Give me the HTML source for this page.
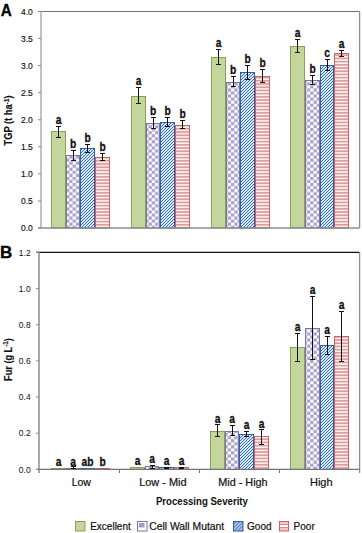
<!DOCTYPE html>
<html><head><meta charset="utf-8"><style>
html,body{margin:0;padding:0;background:#fff;width:362px;height:533px;overflow:hidden}
svg{display:block}
text{font-family:"Liberation Sans",sans-serif;fill:#111}
.tick{font-size:8.5px;text-anchor:end;fill:#111;stroke:#111;stroke-width:0.15px}
.lbl{font-size:12.8px;font-weight:bold;text-anchor:middle;stroke:#111;stroke-width:0.3px}
.pl{font-size:17px;font-weight:bold;stroke:#000;stroke-width:0.3px;fill:#000}
.yt{font-size:10px;font-weight:bold;text-anchor:middle;stroke:#111;stroke-width:0.15px}
.sup{font-size:7px}
.tickb{stroke:none}
.cat{font-size:10.2px;text-anchor:middle;fill:#111;stroke:#111;stroke-width:0.2px}
.xt{font-size:10.4px;font-weight:bold;text-anchor:middle}
.leg{font-size:10px;fill:#111;stroke:#111;stroke-width:0.2px}
</style></head><body>
<svg width="362" height="533" viewBox="0 0 362 533">
<defs>
<pattern id="chk" patternUnits="userSpaceOnUse" width="6.6" height="6.1">
<rect width="6.6" height="6.1" fill="#fdfcff"/>
<rect width="3.3" height="3.05" fill="#a8a1c8"/>
<rect x="3.3" y="3.05" width="3.3" height="3.05" fill="#a8a1c8"/>
</pattern>
<pattern id="dia" patternUnits="userSpaceOnUse" width="3" height="3">
<rect width="3" height="3" fill="#d6e9fc"/>
<path d="M-1 1L1 -1M0 3L3 0M2 4L4 2" stroke="#3a6cc0" stroke-width="1.0"/>
</pattern>
<pattern id="hor" patternUnits="userSpaceOnUse" width="4" height="3.2">
<rect width="4" height="3.2" fill="#fdf3f3"/>
<rect y="0" width="4" height="1.7" fill="#df9c9c"/>
</pattern>
<pattern id="ldia" patternUnits="userSpaceOnUse" width="3.6" height="3.6">
<rect width="3.6" height="3.6" fill="#4a7cc8"/>
<path d="M-1 1L1 -1M0 3.6L3.6 0M2.6 4.6L4.6 2.6" stroke="#eaf3ff" stroke-width="1.1"/>
</pattern>
</defs>
<path d="M38 11.5H359.5" stroke="#737373" stroke-width="1.2" fill="none"/>
<path d="M359.6 11.5V228.0" stroke="#8e8e8e" stroke-width="1.3" fill="none"/>
<path d="M41.0 11.5V228.0" stroke="#c2c2c2" stroke-width="2" fill="none"/>
<rect x="51.5" y="131.5" width="14" height="96.5" fill="#c3d69b" stroke="#87a152" stroke-width="1"/>
<rect x="66.5" y="155.5" width="13" height="72.5" fill="url(#chk)" stroke="#7f73ab" stroke-width="1"/>
<rect x="80.5" y="148.5" width="14" height="79.5" fill="url(#dia)" stroke="#355f9f" stroke-width="1"/>
<rect x="95.5" y="157.5" width="14" height="70.5" fill="url(#hor)" stroke="#c96262" stroke-width="1"/>
<rect x="131.5" y="96.5" width="14" height="131.5" fill="#c3d69b" stroke="#87a152" stroke-width="1"/>
<rect x="146.5" y="123.5" width="13" height="104.5" fill="url(#chk)" stroke="#7f73ab" stroke-width="1"/>
<rect x="160.5" y="122.5" width="14" height="105.5" fill="url(#dia)" stroke="#355f9f" stroke-width="1"/>
<rect x="175.5" y="125.5" width="14" height="102.5" fill="url(#hor)" stroke="#c96262" stroke-width="1"/>
<rect x="211.5" y="57.5" width="14" height="170.5" fill="#c3d69b" stroke="#87a152" stroke-width="1"/>
<rect x="226.5" y="82.5" width="13" height="145.5" fill="url(#chk)" stroke="#7f73ab" stroke-width="1"/>
<rect x="240.5" y="72.5" width="14" height="155.5" fill="url(#dia)" stroke="#355f9f" stroke-width="1"/>
<rect x="255.5" y="76.5" width="14" height="151.5" fill="url(#hor)" stroke="#c96262" stroke-width="1"/>
<rect x="290.5" y="46.5" width="14" height="181.5" fill="#c3d69b" stroke="#87a152" stroke-width="1"/>
<rect x="305.5" y="80.5" width="14" height="147.5" fill="url(#chk)" stroke="#7f73ab" stroke-width="1"/>
<rect x="320.5" y="65.5" width="13" height="162.5" fill="url(#dia)" stroke="#355f9f" stroke-width="1"/>
<rect x="334.5" y="53.5" width="14" height="174.5" fill="url(#hor)" stroke="#c96262" stroke-width="1"/>
<path d="M38 228.0H359.5" stroke="#8c8c8c" stroke-width="1.6" fill="none"/>
<path d="M38 228.00H41" stroke="#8c8c8c" stroke-width="1"/>
<text x="32.8" y="231.30" class="tick">0.0</text>
<path d="M38 200.94H41" stroke="#8c8c8c" stroke-width="1"/>
<text x="32.8" y="204.24" class="tick">0.5</text>
<path d="M38 173.88H41" stroke="#8c8c8c" stroke-width="1"/>
<text x="32.8" y="177.18" class="tick">1.0</text>
<path d="M38 146.81H41" stroke="#8c8c8c" stroke-width="1"/>
<text x="32.8" y="150.11" class="tick">1.5</text>
<path d="M38 119.75H41" stroke="#8c8c8c" stroke-width="1"/>
<text x="32.8" y="123.05" class="tick">2.0</text>
<path d="M38 92.69H41" stroke="#8c8c8c" stroke-width="1"/>
<text x="32.8" y="95.99" class="tick">2.5</text>
<path d="M38 65.62H41" stroke="#8c8c8c" stroke-width="1"/>
<text x="32.8" y="68.92" class="tick">3.0</text>
<path d="M38 38.56H41" stroke="#8c8c8c" stroke-width="1"/>
<text x="32.8" y="41.86" class="tick">3.5</text>
<path d="M38 11.50H41" stroke="#8c8c8c" stroke-width="1"/>
<text x="32.8" y="14.80" class="tick">4.0</text>
<path d="M58.5 126.5V137.5M56.0 126.5H61.0M56.0 137.5H61.0" stroke="#111" stroke-width="1" fill="none"/>
<text transform="translate(58.50,123.70) scale(0.8,1)" class="lbl">a</text>
<path d="M73.5 150.5V160.5M71.0 150.5H76.0M71.0 160.5H76.0" stroke="#111" stroke-width="1" fill="none"/>
<text transform="translate(73.00,148.00) scale(0.8,1)" class="lbl">b</text>
<path d="M87.5 144.5V152.5M85.0 144.5H90.0M85.0 152.5H90.0" stroke="#111" stroke-width="1" fill="none"/>
<text transform="translate(87.50,141.70) scale(0.8,1)" class="lbl">b</text>
<path d="M102.5 153.5V160.5M100.0 153.5H105.0M100.0 160.5H105.0" stroke="#111" stroke-width="1" fill="none"/>
<text transform="translate(102.50,150.60) scale(0.8,1)" class="lbl">b</text>
<path d="M138.5 87.5V103.5M136.0 87.5H141.0M136.0 103.5H141.0" stroke="#111" stroke-width="1" fill="none"/>
<text transform="translate(138.50,85.20) scale(0.8,1)" class="lbl">a</text>
<path d="M153.5 117.5V128.5M151.0 117.5H156.0M151.0 128.5H156.0" stroke="#111" stroke-width="1" fill="none"/>
<text transform="translate(153.00,114.90) scale(0.8,1)" class="lbl">b</text>
<path d="M167.5 117.5V126.5M165.0 117.5H170.0M165.0 126.5H170.0" stroke="#111" stroke-width="1" fill="none"/>
<text transform="translate(167.50,114.90) scale(0.8,1)" class="lbl">b</text>
<path d="M182.5 120.5V128.5M180.0 120.5H185.0M180.0 128.5H185.0" stroke="#111" stroke-width="1" fill="none"/>
<text transform="translate(182.50,118.10) scale(0.8,1)" class="lbl">b</text>
<path d="M218.5 49.5V64.5M216.0 49.5H221.0M216.0 64.5H221.0" stroke="#111" stroke-width="1" fill="none"/>
<text transform="translate(218.50,47.00) scale(0.8,1)" class="lbl">a</text>
<path d="M233.5 76.5V86.5M231.0 76.5H236.0M231.0 86.5H236.0" stroke="#111" stroke-width="1" fill="none"/>
<text transform="translate(233.00,73.50) scale(0.8,1)" class="lbl">b</text>
<path d="M247.5 65.5V79.5M245.0 65.5H250.0M245.0 79.5H250.0" stroke="#111" stroke-width="1" fill="none"/>
<text transform="translate(247.50,63.40) scale(0.8,1)" class="lbl">b</text>
<path d="M262.5 69.5V82.5M260.0 69.5H265.0M260.0 82.5H265.0" stroke="#111" stroke-width="1" fill="none"/>
<text transform="translate(262.50,67.00) scale(0.8,1)" class="lbl">b</text>
<path d="M297.5 39.5V52.5M295.0 39.5H300.0M295.0 52.5H300.0" stroke="#111" stroke-width="1" fill="none"/>
<text transform="translate(297.50,37.00) scale(0.8,1)" class="lbl">a</text>
<path d="M312.5 75.5V84.5M310.0 75.5H315.0M310.0 84.5H315.0" stroke="#111" stroke-width="1" fill="none"/>
<text transform="translate(312.50,73.20) scale(0.8,1)" class="lbl">b</text>
<path d="M327.5 59.5V70.5M325.0 59.5H330.0M325.0 70.5H330.0" stroke="#111" stroke-width="1" fill="none"/>
<text transform="translate(327.00,57.30) scale(0.8,1)" class="lbl">c</text>
<path d="M341.5 50.5V56.5M339.0 50.5H344.0M339.0 56.5H344.0" stroke="#111" stroke-width="1" fill="none"/>
<text transform="translate(341.50,47.60) scale(0.8,1)" class="lbl">a</text>
<path d="M36 252.4H359.5" stroke="#111" stroke-width="1.2" fill="none"/>
<path d="M359.6 252.4V473.0" stroke="#8e8e8e" stroke-width="1.3" fill="none"/>
<path d="M39.0 252.4V473.0" stroke="#a9a9a9" stroke-width="2" fill="none"/>
<rect x="51.5" y="468.5" width="14" height="0.9" fill="#c3d69b" stroke="#87a152" stroke-width="1"/>
<rect x="66.5" y="468.5" width="13" height="0.9" fill="url(#chk)" stroke="#7f73ab" stroke-width="1"/>
<rect x="80.5" y="468.5" width="14" height="0.9" fill="url(#dia)" stroke="#355f9f" stroke-width="1"/>
<rect x="95.5" y="468.5" width="14" height="0.9" fill="url(#hor)" stroke="#c96262" stroke-width="1"/>
<rect x="130.5" y="467.5" width="14" height="1.9" fill="#c3d69b" stroke="#87a152" stroke-width="1"/>
<rect x="145.5" y="466.5" width="13" height="2.9" fill="url(#chk)" stroke="#7f73ab" stroke-width="1"/>
<rect x="159.5" y="467.5" width="14" height="1.9" fill="url(#dia)" stroke="#355f9f" stroke-width="1"/>
<rect x="174.5" y="467.5" width="14" height="1.9" fill="url(#hor)" stroke="#c96262" stroke-width="1"/>
<rect x="210.5" y="431.5" width="14" height="37.9" fill="#c3d69b" stroke="#87a152" stroke-width="1"/>
<rect x="225.5" y="431.5" width="13" height="37.9" fill="url(#chk)" stroke="#7f73ab" stroke-width="1"/>
<rect x="239.5" y="434.5" width="14" height="34.9" fill="url(#dia)" stroke="#355f9f" stroke-width="1"/>
<rect x="254.5" y="436.5" width="14" height="32.9" fill="url(#hor)" stroke="#c96262" stroke-width="1"/>
<rect x="290.5" y="347.5" width="14" height="121.9" fill="#c3d69b" stroke="#87a152" stroke-width="1"/>
<rect x="305.5" y="328.5" width="14" height="140.9" fill="url(#chk)" stroke="#7f73ab" stroke-width="1"/>
<rect x="320.5" y="345.5" width="13" height="123.9" fill="url(#dia)" stroke="#355f9f" stroke-width="1"/>
<rect x="334.5" y="336.5" width="14" height="132.9" fill="url(#hor)" stroke="#c96262" stroke-width="1"/>
<path d="M36 469.4H359.5" stroke="#747474" stroke-width="1.2" fill="none"/>
<path d="M119.5 469.4V473.0" stroke="#7a7a7a" stroke-width="1"/>
<path d="M199.5 469.4V473.0" stroke="#7a7a7a" stroke-width="1"/>
<path d="M279.5 469.4V473.0" stroke="#7a7a7a" stroke-width="1"/>
<path d="M36 469.40H39" stroke="#8c8c8c" stroke-width="1"/>
<text x="30.7" y="472.60" class="tick tickb">0.0</text>
<path d="M36 433.23H39" stroke="#8c8c8c" stroke-width="1"/>
<text x="30.7" y="436.43" class="tick tickb">0.2</text>
<path d="M36 397.07H39" stroke="#8c8c8c" stroke-width="1"/>
<text x="30.7" y="400.27" class="tick tickb">0.4</text>
<path d="M36 360.90H39" stroke="#8c8c8c" stroke-width="1"/>
<text x="30.7" y="364.10" class="tick tickb">0.6</text>
<path d="M36 324.73H39" stroke="#8c8c8c" stroke-width="1"/>
<text x="30.7" y="327.93" class="tick tickb">0.8</text>
<path d="M36 288.57H39" stroke="#8c8c8c" stroke-width="1"/>
<text x="30.7" y="291.77" class="tick tickb">1.0</text>
<path d="M36 252.40H39" stroke="#8c8c8c" stroke-width="1"/>
<text x="30.7" y="255.60" class="tick tickb">1.2</text>
<text transform="translate(58.50,465.70) scale(0.8,1)" class="lbl">a</text>
<path d="M73.5 466.5V468.5M71.0 466.5H76.0M71.0 468.5H76.0" stroke="#111" stroke-width="1" fill="none"/>
<text transform="translate(73.00,465.70) scale(0.8,1)" class="lbl">a</text>
<text transform="translate(87.50,465.70) scale(0.8,1)" class="lbl">ab</text>
<text transform="translate(102.50,465.70) scale(0.8,1)" class="lbl">b</text>
<text transform="translate(137.50,464.60) scale(0.8,1)" class="lbl">a</text>
<path d="M152.5 465.5V468.5M150.0 465.5H155.0M150.0 468.5H155.0" stroke="#111" stroke-width="1" fill="none"/>
<text transform="translate(152.00,462.60) scale(0.8,1)" class="lbl">a</text>
<path d="M166.5 467.5V468.5M164.0 467.5H169.0M164.0 468.5H169.0" stroke="#111" stroke-width="1" fill="none"/>
<text transform="translate(166.50,464.60) scale(0.8,1)" class="lbl">a</text>
<path d="M181.5 467.5V468.5M179.0 467.5H184.0M179.0 468.5H184.0" stroke="#111" stroke-width="1" fill="none"/>
<text transform="translate(181.50,464.60) scale(0.8,1)" class="lbl">a</text>
<path d="M217.5 424.5V436.5M215.0 424.5H220.0M215.0 436.5H220.0" stroke="#111" stroke-width="1" fill="none"/>
<text transform="translate(217.50,422.60) scale(0.8,1)" class="lbl">a</text>
<path d="M232.5 425.5V435.5M230.0 425.5H235.0M230.0 435.5H235.0" stroke="#111" stroke-width="1" fill="none"/>
<text transform="translate(232.00,422.90) scale(0.8,1)" class="lbl">a</text>
<path d="M246.5 431.5V436.5M244.0 431.5H249.0M244.0 436.5H249.0" stroke="#111" stroke-width="1" fill="none"/>
<text transform="translate(246.50,428.90) scale(0.8,1)" class="lbl">a</text>
<path d="M261.5 429.5V444.5M259.0 429.5H264.0M259.0 444.5H264.0" stroke="#111" stroke-width="1" fill="none"/>
<text transform="translate(261.50,427.70) scale(0.8,1)" class="lbl">a</text>
<path d="M297.5 333.5V361.5M295.0 333.5H300.0M295.0 361.5H300.0" stroke="#111" stroke-width="1" fill="none"/>
<text transform="translate(297.50,330.80) scale(0.8,1)" class="lbl">a</text>
<path d="M312.5 296.5V359.5M310.0 296.5H315.0M310.0 359.5H315.0" stroke="#111" stroke-width="1" fill="none"/>
<text transform="translate(312.50,294.10) scale(0.8,1)" class="lbl">a</text>
<path d="M327.5 336.5V354.5M325.0 336.5H330.0M325.0 354.5H330.0" stroke="#111" stroke-width="1" fill="none"/>
<text transform="translate(327.00,334.30) scale(0.8,1)" class="lbl">a</text>
<path d="M341.5 311.5V361.5M339.0 311.5H344.0M339.0 361.5H344.0" stroke="#111" stroke-width="1" fill="none"/>
<text transform="translate(341.50,309.00) scale(0.8,1)" class="lbl">a</text>
<text transform="translate(0.7,15.6) scale(0.9,1)" class="pl">A</text>
<text x="0" y="258.2" class="pl">B</text>
<text transform="translate(12.2,120.5) rotate(-90)" class="yt" textLength="50" lengthAdjust="spacingAndGlyphs">TGP (t ha<tspan class="sup" dy="-3.5">-1</tspan><tspan dy="3.5">)</tspan></text>
<text transform="translate(11.8,359.5) rotate(-90)" class="yt" textLength="42.8" lengthAdjust="spacingAndGlyphs">Fur (g L<tspan class="sup" dy="-3.5">-1</tspan><tspan dy="3.5">)</tspan></text>
<text x="81.3" y="486.3" class="cat" textLength="19.2" lengthAdjust="spacingAndGlyphs">Low</text>
<text x="162.9" y="486.3" class="cat" textLength="47.4" lengthAdjust="spacingAndGlyphs">Low - Mid</text>
<text x="242.95" y="486.3" class="cat" textLength="49.3" lengthAdjust="spacingAndGlyphs">Mid - High</text>
<text x="321.25" y="486.3" class="cat" textLength="22.5" lengthAdjust="spacingAndGlyphs">High</text>
<text x="201.9" y="504.8" class="xt" textLength="92" lengthAdjust="spacingAndGlyphs">Processing Severity</text>
<rect x="75.5" y="521.5" width="9.5" height="9.5" fill="#c3d69b" stroke="#87a152"/>
<text x="90.2" y="530.3" class="leg">Excellent</text>
<rect x="137.5" y="521.5" width="9.5" height="9.5" fill="#fff" stroke="#7f73ab"/>
<rect x="139" y="523" width="5.5" height="4.5" fill="#a898cc"/>
<text x="149.2" y="530.3" class="leg" textLength="75" lengthAdjust="spacingAndGlyphs">Cell Wall Mutant</text>
<rect x="233.5" y="521.5" width="9.5" height="9.5" fill="url(#ldia)" stroke="#355f9f"/>
<text x="247.1" y="530.3" class="leg">Good</text>
<rect x="279.5" y="521.5" width="9" height="9.5" fill="#f3c6c6" stroke="#c96262"/>
<rect x="280" y="524" width="8" height="1" fill="#d98a8a"/>
<rect x="280" y="525" width="8" height="2" fill="#fff"/>
<rect x="280" y="527" width="8" height="1" fill="#d98a8a"/>
<text x="293.6" y="530.3" class="leg">Poor</text>
</svg>
</body></html>
